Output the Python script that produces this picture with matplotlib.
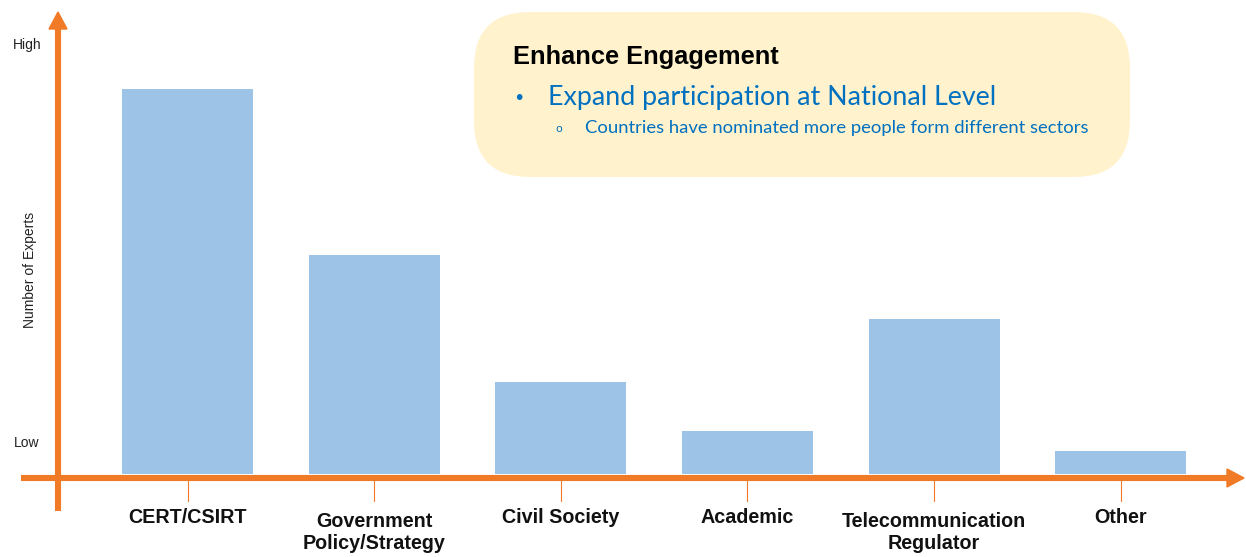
import matplotlib
matplotlib.use("Agg")
import matplotlib.pyplot as plt
from matplotlib.patches import FancyBboxPatch
import numpy as np

categories = ["CERT/CSIRT", "Government\nPolicy/Strategy", "Civil Society",
              "Academic", "Telecommunication\nRegulator", "Other"]
values = [89.7, 51.0, 21.4, 10.0, 36.1, 5.4]
ytick_values = [7.2, 100]
ytick_labels = ["Low", "High"]
y_label = "Number of Experts"
box_title = "Enhance Engagement"
box_bullet = "Expand participation at National Level"
box_sub = "Countries have nominated more people form different sectors"

W, H = 1246, 557
ORANGE = "#F07A26"
BAR = "#9DC3E6"
BOXC = "#FFF2CC"
BLUE = "#0070C0"

fig = plt.figure(figsize=(W / 100, H / 100), dpi=100)

def fx(p):
    return p / W

def fy(p):
    return 1 - p / H

# axes: y=0 at pixel 474 from top, y=100 at 45 from top
ax = fig.add_axes([0, fy(474), 1, (474 - 45) / H])
ax.set_ylim(0, 100)
x = np.arange(len(categories))
spacing = 186.6
x0 = 187.7
ax.set_xlim(-x0 / spacing, (W - x0) / spacing)
ax.bar(x, values, width=131 / spacing, color=BAR, zorder=2)
ax.axis("off")

# y labels
for v, lab in zip(ytick_values, ytick_labels):
    ypix = 474 - v * 4.29
    fig.text(fx(27), fy(ypix), lab, ha="center", va="center",
             fontsize=10, family="Liberation Sans", color="#222222")
fig.text(fx(30), fy(270), y_label, rotation=90, ha="center", va="center",
         fontsize=10, family="Liberation Sans", color="#222222")

# arrows (decoration)
lw = 4.4
fig.add_artist(plt.Line2D([fx(58), fx(58)], [fy(511), fy(28)],
                          color=ORANGE, lw=lw, solid_capstyle="butt"))
fig.add_artist(plt.Polygon([[fx(49), fy(29)], [fx(67), fy(29)], [fx(58), fy(12)]],
                           closed=True, color=ORANGE, transform=fig.transFigure))
fig.add_artist(plt.Line2D([fx(21), fx(1228)], [fy(478), fy(478)],
                          color=ORANGE, lw=lw, solid_capstyle="butt"))
fig.add_artist(plt.Polygon([[fx(1227), fy(469)], [fx(1227), fy(487)], [fx(1244), fy(478)]],
                           closed=True, color=ORANGE, transform=fig.transFigure))

# ticks and labels
for i, lab in enumerate(categories):
    xp = ax.transData.transform((x[i], 0))[0]
    fig.add_artist(plt.Line2D([fx(xp), fx(xp)], [fy(480), fy(501)],
                              color=ORANGE, lw=0.8))
    top = 508 if "\n" not in lab else 512
    fig.text(fx(xp), fy(top), lab, ha="center", va="top", fontsize=14.2,
             fontweight="bold", family="Liberation Sans", color="#111111",
             linespacing=1.2)

# text box
box = FancyBboxPatch((fx(474), fy(177)), fx(1130 - 474), (177 - 12) / H,
                     boxstyle="round,pad=0,rounding_size=0.045",
                     transform=fig.transFigure, facecolor=BOXC,
                     edgecolor="none", mutation_aspect=W / H)
fig.add_artist(box)
fig.text(fx(513), fy(57), box_title, ha="left", va="center", fontsize=18.3,
         fontweight="bold", family="Liberation Sans", color="black")
fig.text(fx(513), fy(98), "•", ha="left", va="center", fontsize=14,
         family="DejaVu Sans", color=BLUE)
fig.text(fx(548), fy(98), box_bullet, ha="left", va="center", fontsize=19.3,
         family="Lato", color=BLUE)
fig.text(fx(555), fy(129), "o", ha="left", va="center", fontsize=8,
         family="DejaVu Sans", color=BLUE)
fig.text(fx(585), fy(128), box_sub, ha="left", va="center", fontsize=13.3,
         family="Lato", color=BLUE)

fig.savefig("out.png", dpi=100)
